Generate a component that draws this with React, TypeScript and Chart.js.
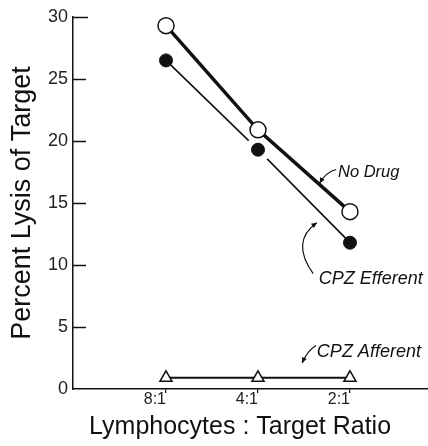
import React, { useEffect, useRef } from "react";
import { Chart, registerables } from "chart.js";

Chart.register(...registerables);

// ---- data ----
const ratioLabels = ["8:1", "4:1", "2:1"];
const noDrug = [29.3, 20.9, 14.3];
const cpzEfferent = [26.5, 19.3, 11.8];
const cpzAfferent = [0.9, 0.9, 0.9];
const yTickValues = [0, 5, 10, 15, 20, 25, 30];
const seriesNames = ["No Drug", "CPZ Efferent", "CPZ Afferent"];

// annotation anchors in data space: [xValue, yValue]
const noteNoDrug = { text: seriesNames[0], at: [1.87, 17.5], from: [1.85, 17.7], ctrl: [1.74, 17.5], to: [1.67, 16.6] };
const noteEfferent = { text: seriesNames[1], at: [1.66, 8.9], from: [1.6, 9.3], ctrl: [1.35, 11.9], to: [1.64, 13.4] };
const noteAfferent = { text: seriesNames[2], at: [1.64, 3.0], from: [1.63, 3.5], ctrl: [1.54, 3.1], to: [1.48, 2.1] };

const FONT = "'Liberation Sans', Arial, Helvetica, sans-serif";
const INK = "#111";

const inwardTicks = {
  id: "inwardTicks",
  afterDraw(chart: any) {
    const y = chart.scales.y;
    const ctx = chart.ctx;
    const left = chart.chartArea.left;
    ctx.save();
    ctx.strokeStyle = INK;
    ctx.lineWidth = 1.5;
    yTickValues.forEach((v) => {
      if (v === 0) return;
      const py = Math.round(y.getPixelForValue(v)) + 0.5;
      ctx.beginPath();
      ctx.moveTo(left, py);
      ctx.lineTo(left + (v === 30 ? 15 : 13), py);
      ctx.stroke();
    });
    ctx.restore();
  },
};

const brokenLine = {
  id: "brokenLine",
  beforeDatasetsDraw(chart: any) {
    const meta = chart.getDatasetMeta(1);
    const pts = meta.data;
    const ctx = chart.ctx;
    const gapAt = (i: number) => (i === 0 || i === pts.length - 1 ? 0 : 13);
    ctx.save();
    ctx.strokeStyle = INK;
    ctx.lineWidth = 1.6;
    for (let i = 0; i < pts.length - 1; i++) {
      const a = pts[i];
      const b = pts[i + 1];
      const dx = b.x - a.x;
      const dy = b.y - a.y;
      const len = Math.hypot(dx, dy);
      const ux = dx / len;
      const uy = dy / len;
      const s0 = gapAt(i);
      const s1 = gapAt(i + 1);
      ctx.beginPath();
      ctx.moveTo(a.x + ux * s0, a.y + uy * s0);
      ctx.lineTo(b.x - ux * s1, b.y - uy * s1);
      ctx.stroke();
    }
    ctx.restore();
  },
};

const annotations = {
  id: "annotations",
  afterDatasetsDraw(chart: any) {
    const { x, y } = chart.scales;
    const ctx = chart.ctx;
    const P = (p: number[]) => [x.getPixelForValue(p[0]), y.getPixelForValue(p[1])];
    const notes = [
      { n: noteNoDrug, size: 16.5 },
      { n: noteEfferent, size: 18 },
      { n: noteAfferent, size: 18 },
    ];
    ctx.save();
    notes.forEach(({ n, size }) => {
      const [tx, ty] = P(n.at);
      ctx.fillStyle = INK;
      ctx.font = `italic ${size}px ${FONT}`;
      ctx.textAlign = "left";
      ctx.textBaseline = "middle";
      ctx.fillText(n.text, tx, ty);
      const [fx, fy] = P(n.from);
      const [cx, cy] = P(n.ctrl);
      const [ex, ey] = P(n.to);
      ctx.strokeStyle = INK;
      ctx.lineWidth = 1.2;
      ctx.beginPath();
      ctx.moveTo(fx, fy);
      ctx.quadraticCurveTo(cx, cy, ex, ey);
      ctx.stroke();
      // arrowhead
      const ang = Math.atan2(ey - cy, ex - cx);
      const L = 6;
      ctx.beginPath();
      ctx.moveTo(ex, ey);
      ctx.lineTo(ex - L * Math.cos(ang - 0.45), ey - L * Math.sin(ang - 0.45));
      ctx.lineTo(ex - L * Math.cos(ang + 0.45), ey - L * Math.sin(ang + 0.45));
      ctx.closePath();
      ctx.fillStyle = INK;
      ctx.fill();
    });
    ctx.restore();
  },
};

export default function App() {
  const ref = useRef<HTMLCanvasElement | null>(null);

  useEffect(() => {
    document.body.style.margin = "0";
    if (!ref.current) return;
    const idx = ratioLabels.map((_, i) => i);
    const toPts = (vals: number[]) => idx.map((i) => ({ x: i, y: vals[i] }));

    const chart = new Chart(ref.current, {
      type: "line",
      data: {
        datasets: [
          {
            label: seriesNames[0],
            data: toPts(noDrug),
            borderColor: INK,
            borderWidth: 3.5,
            pointRadius: 8,
            pointBackgroundColor: "#fff",
            pointBorderColor: INK,
            pointBorderWidth: 1.5,
            showLine: true,
            clip: false as any,
          },
          {
            label: seriesNames[1],
            data: toPts(cpzEfferent),
            showLine: false,
            pointRadius: 6.5,
            pointBackgroundColor: INK,
            pointBorderColor: INK,
            pointBorderWidth: 1,
            clip: false as any,
          },
          {
            label: seriesNames[2],
            data: toPts(cpzAfferent),
            borderColor: INK,
            borderWidth: 2,
            pointStyle: "triangle",
            pointRadius: 7,
            pointBackgroundColor: "#fff",
            pointBorderColor: INK,
            pointBorderWidth: 1.5,
            showLine: true,
            clip: false as any,
          },
        ],
      },
      options: {
        animation: false,
        responsive: false,
        devicePixelRatio: 1,
        layout: { autoPadding: false, padding: { top: 17, left: 0, right: 0, bottom: 0 } },
        plugins: { legend: { display: false }, tooltip: { enabled: false } },
        scales: {
          x: {
            type: "linear",
            min: -1.011,
            max: 2.848,
            afterBuildTicks: (s: any) => {
              s.ticks = idx.map((v) => ({ value: v }));
            },
            afterFit: (s: any) => {
              s.height = 57;
            },
            ticks: {
              callback: (v: any) => ratioLabels[v as number] ?? "",
              autoSkip: false,
              maxRotation: 0,
              align: "end",
              padding: -3,
              color: "#222",
              font: { family: FONT, size: 16 },
            },
            grid: { drawOnChartArea: false, drawTicks: true, tickLength: 4, color: INK, lineWidth: 1.2 },
            border: { display: true, color: INK, width: 1.5 },
            title: {
              display: true,
              text: "Lymphocytes : Target Ratio   ",
              color: INK,
              font: { family: FONT, size: 25 },
              padding: { top: 0, bottom: 4 },
            },
          },
          y: {
            type: "linear",
            min: 0,
            max: 30,
            afterBuildTicks: (s: any) => {
              s.ticks = yTickValues.map((v) => ({ value: v }));
            },
            afterFit: (s: any) => {
              s.width = 73;
            },
            ticks: {
              padding: 5,
              color: "#222",
              font: { family: FONT, size: 18 },
            },
            grid: { display: false, drawTicks: false },
            border: { display: true, color: INK, width: 1.5 },
            title: {
              display: true,
              text: "Percent Lysis of Target",
              color: INK,
              font: { family: FONT, size: 27 },
              padding: { top: 6, bottom: 0 },
            },
          },
        },
      },
      plugins: [inwardTicks, brokenLine, annotations],
    } as any);

    return () => chart.destroy();
  }, []);

  return <canvas ref={ref} width={428} height={446} style={{ display: "block" }} />;
}
